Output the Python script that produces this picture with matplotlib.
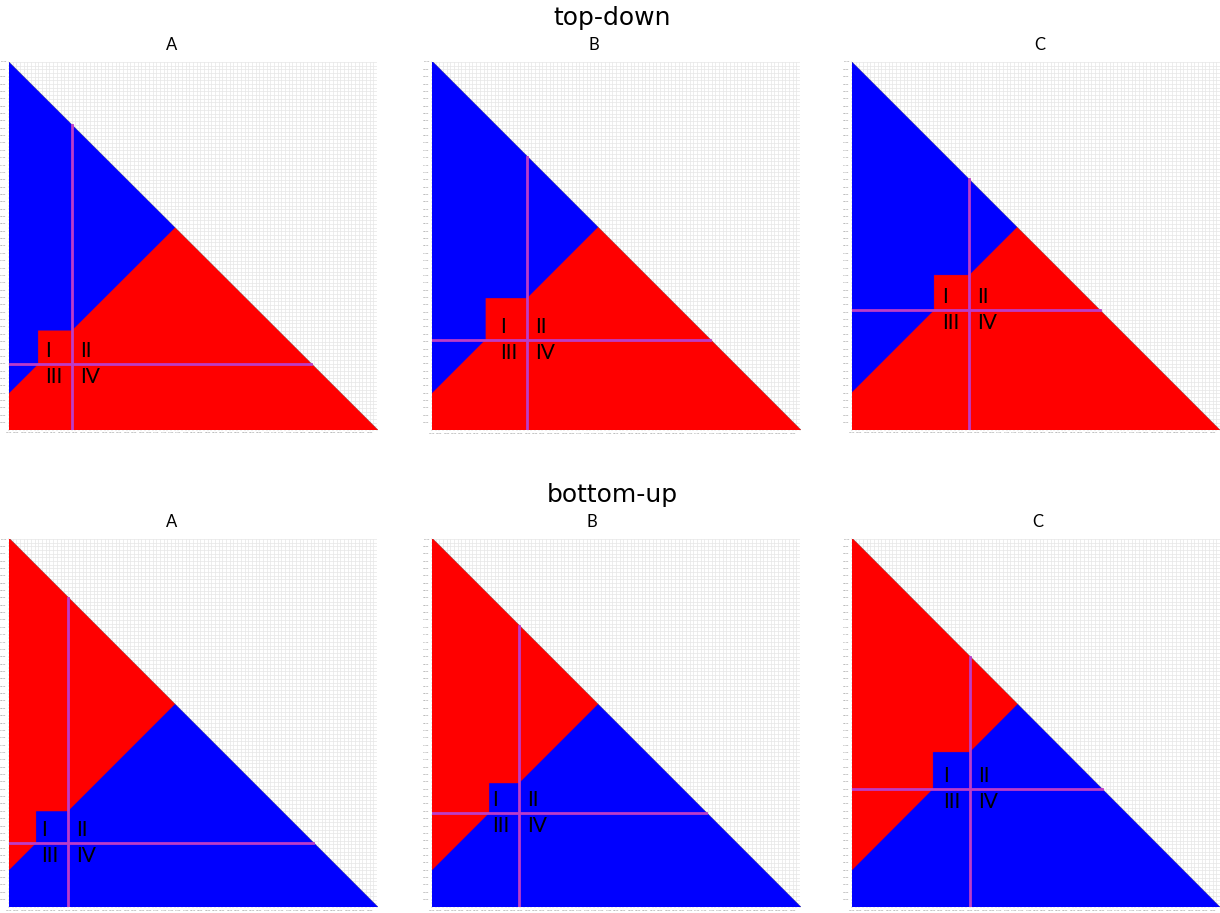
import numpy as np
import matplotlib
matplotlib.use('Agg')
import matplotlib.pyplot as plt
from matplotlib.colors import ListedColormap
from matplotlib.ticker import FixedLocator, MultipleLocator, FormatStrFormatter

# panel setup: position of the vertical / horizontal split lines and the
# offset of the sloped class boundary (y = x + offset)
row_names = ['top-down', 'bottom-up']
col_names = ['A', 'B', 'C']
vline_x = [[0.171, 0.258, 0.318],
           [0.160, 0.236, 0.320]]
hline_y = [[0.179, 0.245, 0.326],
           [0.174, 0.255, 0.320]]
offset = [[0.100, 0.100, 0.103],
          [0.100, 0.100, 0.100]]
quadrants = ['I', 'II', 'III', 'IV']
tick_vals = [i / 50 for i in range(50)]
n_cells = 736

W, H = 1220, 913
fig = plt.figure(figsize=(W / 100, H / 100), dpi=100)

lefts = [9, 432, 852]
tops = [62, 539]
size = 368
title_x = [[172, 594, 1040], [172, 592, 1038]]
row_title_y = [18, 495]

centers = (np.arange(n_cells) + 0.5) / n_cells
X, Y = np.meshgrid(centers, centers)

for r in range(2):
    fig.text(612 / W, 1 - row_title_y[r] / H, row_names[r], ha='center', va='center',
             fontsize=18)
    for c in range(3):
        vx = vline_x[r][c]
        hy = hline_y[r][c]
        k = offset[r][c]
        ax = fig.add_axes([lefts[c] / W, 1 - (tops[r] + size) / H, size / W, size / H])

        # lower class: below the sloped boundary, extended in quadrant I up to the vertical line
        x_eff = np.where((X >= hy - k) & (X <= vx), vx, X)
        lower = Y < x_eff + k
        field = np.where(lower, 1.0, 0.0) if r == 0 else np.where(lower, 0.0, 1.0)
        field = np.ma.masked_where(X + Y > 1.0, field)
        ax.imshow(field, origin='lower', extent=[0, 1, 0, 1], cmap=ListedColormap(['#0000ff', '#ff0000']),
                  vmin=0, vmax=1, interpolation='antialiased', interpolation_stage='rgba', zorder=2)

        ax.plot([vx, vx], [0, 1 - vx], color='#bc3cc8', lw=2, zorder=3)
        ax.plot([0, 1 - hy], [hy, hy], color='#bc3cc8', lw=2, zorder=3)

        dx_l, dx_r, dy = 0.072, 0.022, 0.035
        ax.text(vx - dx_l, hy + dy, quadrants[0], ha='left', va='center', fontsize=15, family='Lato', zorder=4)
        ax.text(vx + dx_r, hy + dy, quadrants[1], ha='left', va='center', fontsize=15, family='Lato', zorder=4)
        ax.text(vx - dx_l, hy - dy, quadrants[2], ha='left', va='center', fontsize=15, family='Lato', zorder=4)
        ax.text(vx + dx_r, hy - dy, quadrants[3], ha='left', va='center', fontsize=15, family='Lato', zorder=4)

        ax.set_xlim(0, 1)
        ax.set_ylim(0, 1)
        ax.xaxis.set_major_locator(FixedLocator(tick_vals))
        ax.yaxis.set_major_locator(FixedLocator(tick_vals[1:] + [1.0]))
        ax.xaxis.set_minor_locator(MultipleLocator(0.01))
        ax.yaxis.set_minor_locator(MultipleLocator(0.01))
        ax.xaxis.set_major_formatter(FormatStrFormatter('%.3f'))
        ax.yaxis.set_major_formatter(FormatStrFormatter('%.3f'))
        ax.tick_params(which='both', length=1, width=0.3, color='#bbbbbb', labelsize=1.6,
                       labelcolor='#777777', pad=0.8)
        ax.grid(True, which='both', color='#e6e6e6', lw=0.5, zorder=0)
        ax.set_axisbelow(True)
        for s in ax.spines.values():
            s.set_visible(False)

        fig.text(title_x[r][c] / W, 1 - (tops[r] - 17) / H, col_names[c], ha='center', va='center',
                 fontsize=12, family='Lato')

fig.savefig('out.png', dpi=100)
